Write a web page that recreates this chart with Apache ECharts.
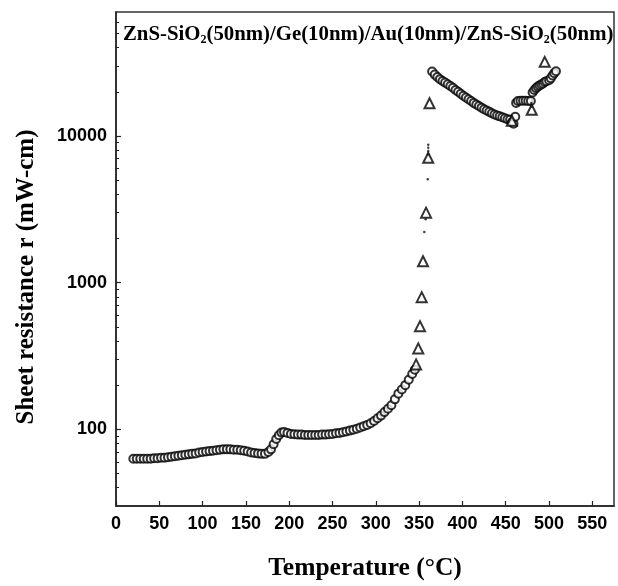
<!DOCTYPE html>
<html>
<head>
<meta charset="utf-8">
<script src="https://cdn.jsdelivr.net/npm/echarts@6/dist/echarts.min.js"></script>
<style>
html,body{margin:0;padding:0;background:#fff;}
#chart{width:618px;height:586px;}
</style>
</head>
<body>
<div id="chart"></div>
<script>
// ---- data ----
const circleTemp = [20,24,28,32,36,40,44,48,52,56,60,64,68,72,76,80,84,88,92,96,100,104,108,112,116,120,124,128,132,136,140,144,148,152,156,160,164,168,172,176,179,182,185,188,191,194,198,202,206,210,214,218,222,226,230,234,238,242,246,250,254,258,262,266,270,274,278,282,286,290,294,298,302,306,310,314,318,322,326,330,334,338,342,345,
  365,368,371,374,377,380,383,386,389,392,395,398,401,404,407,410,413,416,419,422,425,428,431,434,437,440,443,446,449,452,455,457,459,
  461,462,464,467,470,473,476,479,481,483,485,487,489,491,493,495,497,500,502,504,506,508];
const circleRes = [63,63,63,63,63,63,63.5,63.5,64,64,64.5,65,65.5,66,66.5,67,67.5,68,68.5,69.5,70,70.5,71,71.5,72,72.5,73,73,73,72.5,72.5,72,71.5,70.5,69.5,69,68.5,68,68,70,73,79,86,91,95,96,94.5,93,92.5,92,92,91.5,91.5,91.5,91.5,91.5,92,92,92.5,93,94,94.5,95.5,96.5,98,99.5,101,103,105,107,110,114,119,124,131,138,146,160,175,187,200,218,238,255,
  27500,26200,25200,24400,23700,23100,22500,21900,21300,20600,20000,19400,18800,18300,17800,17300,16800,16400,16000,15600,15200,14900,14600,14300,14000,13800,13600,13400,13200,13000,12900,12400,12100,
  13500,16800,17300,17400,17400,17400,17300,17300,19800,20600,21200,21700,22100,22400,22800,23300,23600,24000,24700,25800,26800,27600];
const triTemp = [346.5,349,351,353,354.5,358,360.5,362,457,480,495];
const triRes  = [277,356,505,796,1400,3000,7100,16700,12700,15100,32000];
const dotTemp = [356,357.5,360,360.5,360.5,360.5,360.5,479.5,479.5,479.5];
const dotRes  = [2210,2700,5070,7500,7900,8300,8700,15800,16300,16800];
const xTicks = [0,50,100,150,200,250,300,350,400,450,500,550];
const yMajor = [100,1000,10000];
const yMinor = [40,50,60,70,80,90,200,300,400,500,600,700,800,900,2000,3000,4000,5000,6000,7000,8000,9000,20000,30000,40000,50000,60000];

const pairs = (xs, ys) => xs.map((x, i) => [x, ys[i]]);

const chart = echarts.init(document.getElementById('chart'), null, {renderer:'canvas'});
const labelFont = {fontFamily:'Liberation Sans', fontWeight:'bold', fontSize:18, color:'#000'};
const option = {
  animation: false,
  backgroundColor: '#fff',
  title: {
    left: 118, top: 19,
    text: '{a|ZnS-SiO}{s|2}{a|(50nm)/Ge(10nm)/Au(10nm)/ZnS-SiO}{s|2}{a|(50nm)}',
    textStyle: {
      rich: {
        a: {fontFamily:'Liberation Serif', fontWeight:'bold', fontSize:20.8, lineHeight:22, color:'#000', verticalAlign:'top'},
        s: {fontFamily:'Liberation Serif', fontWeight:'bold', fontSize:12, lineHeight:12, color:'#000', verticalAlign:'bottom'}
      }
    }
  },
  grid: {left:116, right:4, top:12, bottom:77, show:true, borderColor:'#333', borderWidth:1.5, backgroundColor:'transparent'},
  xAxis: {
    type:'value', min:0, max:575, interval:50,
    axisLine:{lineStyle:{color:'#222', width:1.5}},
    axisTick:{inside:true, length:5, lineStyle:{color:'#222', width:1.2}, customValues: xTicks},
    axisLabel:Object.assign({margin:9, customValues: xTicks}, labelFont),
    splitLine:{show:false},
    name:'Temperature (°C)', nameLocation:'middle', nameGap:49,
    nameTextStyle:{fontFamily:'Liberation Serif', fontWeight:'bold', fontSize:25.5, color:'#000'}
  },
  yAxis: [{
    type:'log', min:30, max:70000,
    axisLine:{show:true, lineStyle:{color:'#222', width:1.5}},
    axisTick:{inside:true, length:5, lineStyle:{color:'#222', width:1.2}, customValues: yMajor},
    axisLabel:Object.assign({margin:9, customValues: yMajor, formatter: v => String(Math.round(v))}, labelFont),
    splitLine:{show:false},
    name:'Sheet resistance r (mW-cm)', nameLocation:'middle', nameGap:77,
    nameTextStyle:{fontFamily:'Liberation Serif', fontWeight:'bold', fontSize:25, color:'#000', padding:[0,36,0,0]}
  },{
    type:'log', min:30, max:70000, position:'left', offset:0,
    axisLine:{show:false},
    axisTick:{inside:true, length:3, lineStyle:{color:'#222', width:1}, customValues: yMinor},
    axisLabel:{show:false},
    splitLine:{show:false}
  }],
  series: [
    {type:'scatter', yAxisIndex:0, data: pairs(circleTemp, circleRes), symbol:'circle', symbolSize:8,
     itemStyle:{color:'#fff', borderColor:'#000', borderWidth:2}},
    {type:'scatter', yAxisIndex:0, data: pairs(triTemp, triRes), symbol:'triangle', symbolSize:10,
     itemStyle:{color:'#fff', borderColor:'#000', borderWidth:2}},
    {type:'scatter', yAxisIndex:0, data: pairs(dotTemp, dotRes), symbol:'circle', symbolSize:2.5,
     itemStyle:{color:'#111'}}
  ]
};
chart.setOption(option);
</script>
</body>
</html>
